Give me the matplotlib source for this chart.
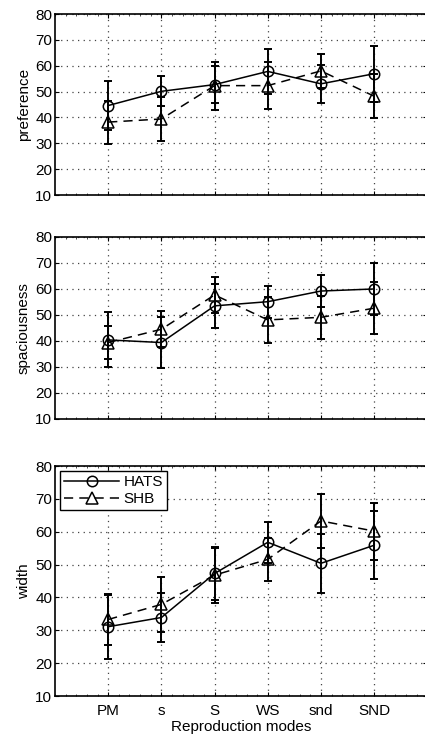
import numpy as np
import matplotlib
matplotlib.use("Agg")
import matplotlib.pyplot as plt

plt.rcParams['font.family'] = ['Liberation Sans', 'DejaVu Sans']

modes = ["PM", "s", "S", "WS", "snd", "SND"]

pref_hats = [44.6, 50.1, 52.7, 57.8, 53.0, 56.9]
pref_hats_err = [9.6, 5.8, 7.2, 8.6, 7.3, 10.9]
pref_shb = [38.2, 39.4, 52.3, 52.3, 58.0, 48.2]
pref_shb_err = [8.3, 8.4, 9.3, 9.0, 6.5, 8.6]

spac_hats = [40.4, 39.4, 53.5, 55.1, 59.2, 60.0]
spac_hats_err = [10.6, 9.8, 8.5, 6.2, 6.2, 9.9]
spac_shb = [39.4, 44.5, 57.7, 48.1, 49.1, 52.6]
spac_shb_err = [6.3, 7.0, 7.0, 8.7, 8.3, 10.0]

width_hats = [31.1, 33.9, 47.3, 56.8, 50.4, 55.9]
width_hats_err = [9.8, 7.5, 8.0, 6.2, 8.9, 10.4]
width_shb = [33.3, 37.9, 46.8, 51.6, 63.3, 60.2]
width_shb_err = [7.8, 8.3, 8.4, 6.5, 8.3, 8.7]

panels = [
    ("preference", pref_hats, pref_hats_err, pref_shb, pref_shb_err),
    ("spaciousness", spac_hats, spac_hats_err, spac_shb, spac_shb_err),
    ("width", width_hats, width_hats_err, width_shb, width_shb_err),
]

fig = plt.figure(figsize=(4.25, 7.37), dpi=100)
# [left, bottom, width, height] in figure fractions
rects = [
    [0.1294, 0.7354, 0.8762, 0.2456],
    [0.1294, 0.4315, 0.8762, 0.2470],
    [0.1294, 0.0556, 0.8762, 0.3120],
]

x = np.arange(1, len(modes) + 1)
fs = 11

for i, (name, h, he, s, se) in enumerate(panels):
    ax = fig.add_axes(rects[i])
    ax.errorbar(x, s, yerr=se, fmt='none', ecolor='black', elinewidth=1.4,
                capsize=3, capthick=1.4, zorder=2)
    ax.errorbar(x, h, yerr=he, fmt='none', ecolor='black', elinewidth=1.4,
                capsize=3, capthick=1.4, zorder=2)
    ax.plot(x, h, '-', color='black', lw=1.1, marker='o', ms=7.5,
            mfc='none', mec='black', mew=1.1, label='HATS', zorder=3)
    ax.plot(x, s, '--', color='black', lw=1.1, marker='^', ms=8.5,
            mfc='none', mec='black', mew=1.1, label='SHB',
            dashes=(6, 4), zorder=3)
    ax.set_xlim(0, 7)
    ax.set_ylim(10, 80)
    ax.set_yticks(range(10, 81, 10))
    ax.set_xticks(x)
    if i == 2:
        ax.set_xticklabels(modes, fontsize=fs)
        ax.set_xlabel("Reproduction modes", fontsize=fs, labelpad=1)
        ax.legend(loc='upper left', fontsize=fs, fancybox=False,
                  edgecolor='black', framealpha=1, handlelength=3.6,
                  borderpad=0.25, labelspacing=0.2, borderaxespad=0.35,
                  handletextpad=0.3)
    else:
        ax.set_xticklabels([])
    ax.set_ylabel(name, fontsize=fs, labelpad=3)
    ax.grid(True, linestyle=(0, (1, 3.5)), color='#444444', lw=0.9)
    ax.tick_params(direction='in', length=3, width=0.8, labelsize=fs,
                   top=True, right=True, pad=2)
    ax.tick_params(axis='x', pad=6)
    ax.set_xticks(np.arange(0, 7.01, 0.2), minor=True)
    ax.tick_params(which='minor', direction='in', length=1.5, width=0.5,
                   top=True, bottom=True)
    for sp in ax.spines.values():
        sp.set_linewidth(1.2)

fig.savefig("out.png", dpi=100)
